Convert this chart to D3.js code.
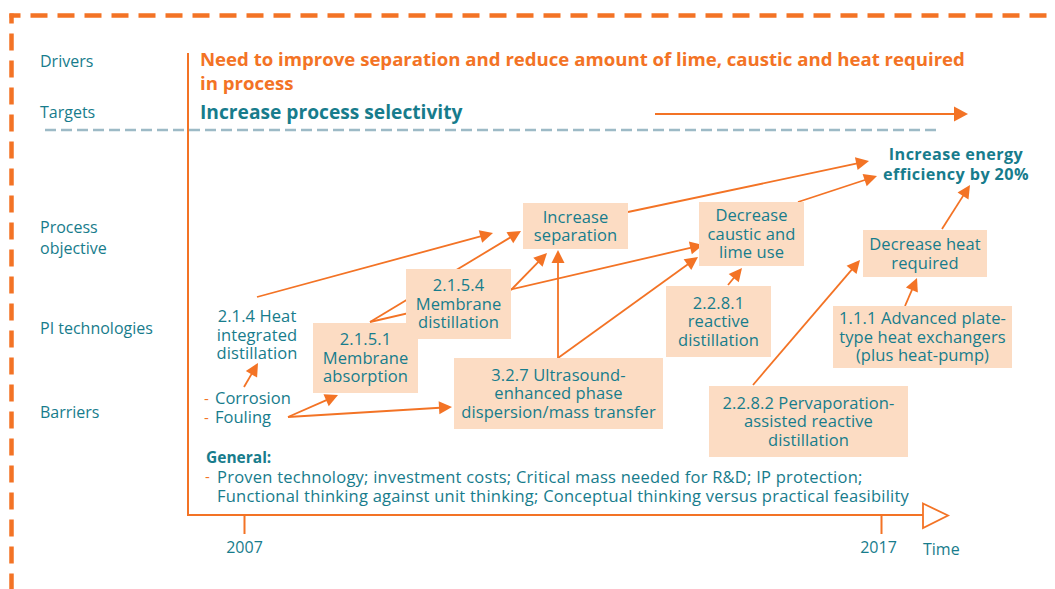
<!DOCTYPE html>
<html><head><meta charset="utf-8">
<script src="https://cdn.jsdelivr.net/npm/d3@7"></script>
<style>body{margin:0;background:#fff}svg{display:block}text{font-family:"Open Sans",Roboto,sans-serif}</style>
</head><body><svg id="c" width="1055" height="589"></svg>
<script>
// ---------------- data (content) ----------------
const rowLabels = [["Drivers"], ["Targets"], ["Process", "objective"], ["PI technologies"], ["Barriers"]];
const driverText = ["Need to improve separation and reduce amount of lime, caustic and heat required", "in process"];
const targetText = "Increase process selectivity";
const years = [2007, 2017];
const axisLabel = "Time";
const goalText = ["Increase energy", "efficiency by 20%"];
const boxNames = ["sep", "caus", "heat", "r2281", "p111", "p2282", "p327", "p2154", "p2151"];
const boxTexts = [
  ["Increase", "separation"],
  ["Decrease", "caustic and", "lime use"],
  ["Decrease heat", "required"],
  ["2.2.8.1", "reactive", "distillation"],
  ["1.1.1 Advanced plate-", "type heat exchangers", "(plus heat-pump)"],
  ["2.2.8.2 Pervaporation-", "assisted reactive", "distillation"],
  ["3.2.7 Ultrasound-", "enhanced phase", "dispersion/mass transfer"],
  ["2.1.5.4", "Membrane", "distillation"],
  ["2.1.5.1", "Membrane", "absorption"]
];
const heatIntText = ["2.1.4 Heat", "integrated", "distillation"];
const barrierItems = ["Corrosion", "Fouling"];
const generalTitle = "General:";
const generalText = ["Proven technology; investment costs; Critical mass needed for R&D; IP protection;",
                     "Functional thinking against unit thinking; Conceptual thinking versus practical feasibility"];
const links = [["hid","sep"],["p2151","sep"],["p2151","caus"],["p2154","sep"],["p327","sep"],["p327","caus"],
               ["sep","goal"],["caus","goal"],["r2281","caus"],["p2282","heat"],["p111","heat"],["heat","goal"],
               ["corr","hid"],["foul","p2151"],["foul","p327"]];

// ---------------- layout (geometry & style) ----------------
const ORANGE = "#F37325", TEAL = "#177C8C", FILL = "#FCDCC3", GRAY = "#9DBAC6";
const W = 1055, H = 589;
const BODY = 16.5, LH = 18.5;
const boxGeom = {
  sep: [523, 203, 628, 249], caus: [699, 202, 804, 266], heat: [863, 230, 987, 277],
  r2281: [666, 286, 771, 357], p111: [833, 306, 1012, 368], p2282: [709, 386, 908, 457],
  p327: [454, 358, 663, 429], p2154: [406, 269, 511, 339], p2151: [313, 323, 418, 393]
};
const arrowGeom = [[257,297,493,233],[370,322,521,231],[370,322,703,245],[511,290,547,253],[558,358,558,250],
  [558,358,698,257],[628,212,869,161],[798,202,877,176],[728,285,742,268],[753,385,860,260],[905,306,917,278],
  [942,229,970,185],[244,387,258,363],[288,417,338,395],[288,417,452,407]];
const rowY = [67, 118, 233, 334, 418];

const svg = d3.select("#c");

// multi-line text helper (one text element, tspans)
function multiText(g, lines, xPos, yFirst, lh, opts) {
  const t = g.append("text").attr("x", xPos).attr("y", yFirst).attr("fill", opts.fill || TEAL)
    .attr("font-size", opts.size).attr("font-weight", opts.weight || 400)
    .attr("letter-spacing", opts.ls || 0)
    .attr("text-anchor", opts.anchor || "start");
  lines.forEach((s, j) => t.append("tspan").attr("x", xPos).attr("dy", j === 0 ? 0 : lh).text(s));
  return t;
}

// outer dashed frame
svg.append("path").attr("d", `M9.5,15.5H${W}`).attr("stroke", ORANGE).attr("stroke-width", 4.5)
  .attr("fill", "none").attr("stroke-dasharray", "17 10").attr("stroke-dashoffset", 6);
svg.append("path").attr("d", `M11.5,13.5V${H}`).attr("stroke", ORANGE).attr("stroke-width", 4.5)
  .attr("fill", "none").attr("stroke-dasharray", "17 10").attr("stroke-dashoffset", 7);

// row labels
rowLabels.forEach((lines, i) => multiText(svg, lines, 40, rowY[i], 21, {size: 16}));

// drivers / targets
multiText(svg, driverText, 200, 66, 24, {fill: ORANGE, weight: 700, size: 18.6});
svg.append("text").attr("x", 200).attr("y", 119).attr("fill", TEAL)
  .attr("font-weight", 700).attr("font-size", 19.2).text(targetText);

// gray separator
svg.append("line").attr("x1", 45).attr("x2", 938).attr("y1", 130).attr("y2", 130)
  .attr("stroke", GRAY).attr("stroke-width", 2.5).attr("stroke-dasharray", "11 5");

// arrow helper
function arrow(g, x1, y1, x2, y2, len = 13, hw = 6.5) {
  const dx = x2 - x1, dy = y2 - y1, d = Math.hypot(dx, dy), ux = dx / d, uy = dy / d;
  const bx = x2 - ux * len, by = y2 - uy * len;
  g.append("line").attr("x1", x1).attr("y1", y1).attr("x2", bx + ux * 1).attr("y2", by + uy * 1)
    .attr("stroke", ORANGE).attr("stroke-width", 1.8);
  g.append("path").attr("d", `M${x2},${y2}L${bx - uy * hw},${by + ux * hw}L${bx + uy * hw},${by - ux * hw}Z`)
    .attr("fill", ORANGE);
}
svg.append("path").attr("d", "M655,114H955").attr("stroke", ORANGE).attr("stroke-width", 1.8);
arrow(svg, 940, 114, 968, 114, 14, 7.5);

const gA = svg.append("g");
arrowGeom.forEach(a => arrow(gA, ...a));

// time axis
const x = d3.scaleLinear().domain(years).range([244, 881]);
svg.append("path").attr("d", "M188,53V515H923").attr("fill", "none").attr("stroke", ORANGE).attr("stroke-width", 2);
svg.append("path").attr("d", "M923,503.5L948,515.5L923,528Z").attr("fill", "#fff").attr("stroke", ORANGE).attr("stroke-width", 1.8);
const ax = svg.append("g").attr("transform", "translate(0,515)")
  .call(d3.axisBottom(x).tickValues(years).tickFormat(d3.format("d")).tickSize(19).tickPadding(8));
ax.select(".domain").remove();
ax.selectAll(".tick line").attr("stroke", ORANGE).attr("stroke-width", 2);
ax.selectAll(".tick text").attr("fill", TEAL).attr("font-size", 16).attr("font-family", "'Open Sans', sans-serif");
ax.selectAll(".tick").filter(d => d === 2017).select("text").attr("dx", -3);
svg.append("text").attr("x", 923).attr("y", 555).attr("fill", TEAL).attr("font-size", 16).text(axisLabel);

// boxes
boxNames.forEach((id, i) => {
  const [x0, y0, x1, y1] = boxGeom[id];
  svg.append("rect").attr("x", x0).attr("y", y0).attr("width", x1 - x0).attr("height", y1 - y0).attr("fill", FILL);
  const lines = boxTexts[i], cx = (x0 + x1) / 2, cy = (y0 + y1) / 2;
  multiText(svg, lines, cx, cy - (lines.length - 1) / 2 * LH + 5.8, LH, {size: BODY, anchor: "middle", ls: 0.1});
});

// free text nodes
multiText(svg, heatIntText, 257, 322, LH, {size: BODY, anchor: "middle", ls: 0.1});
multiText(svg, goalText, 956, 160, 19.5, {size: 16.2, weight: 700, anchor: "middle", ls: 0.4});
multiText(svg, barrierItems.map(() => "-"), 204, 404, 19, {size: 15, fill: ORANGE});
multiText(svg, barrierItems, 215, 404, 19, {size: BODY});
svg.append("text").attr("x", 206).attr("y", 463).attr("fill", TEAL).attr("font-weight", 700).attr("font-size", 15.5).text(generalTitle);
svg.append("text").attr("x", 205).attr("y", 482).attr("fill", ORANGE).attr("font-size", 15).text("-");
multiText(svg, generalText, 217, 483, 19, {size: 16.5, ls: 0.24});
</script></body></html>
